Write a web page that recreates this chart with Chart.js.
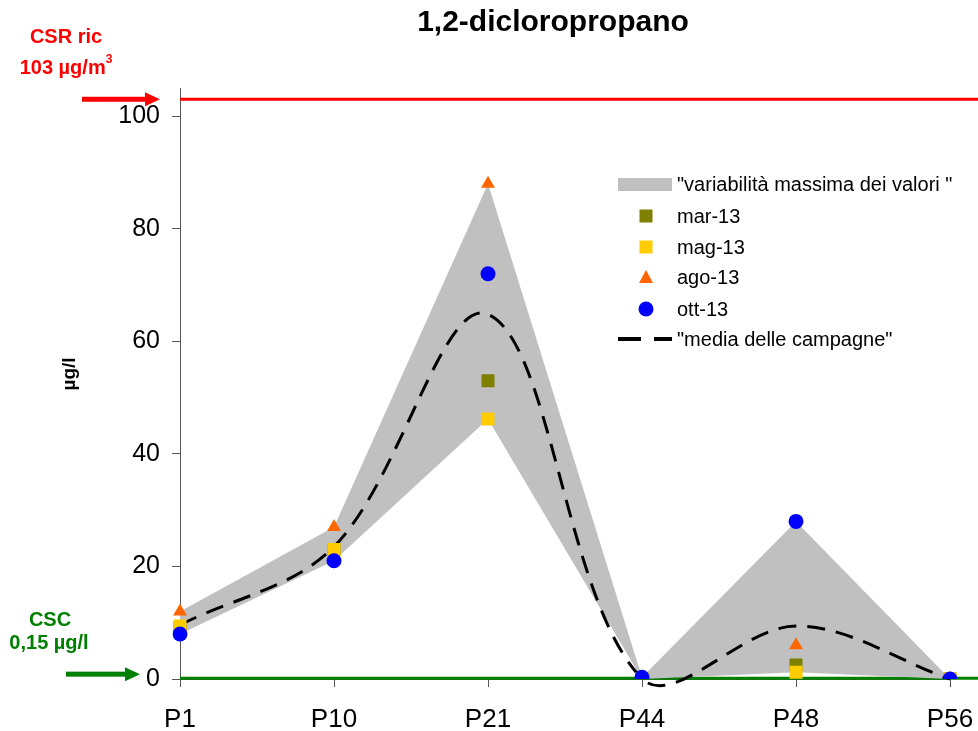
<!DOCTYPE html>
<html>
<head>
<meta charset="utf-8">
<script src="https://cdn.jsdelivr.net/npm/chart.js@4"></script>
<style>
  html, body { margin: 0; padding: 0; background: #fff; }
  #wrap { width: 978px; height: 731px; position: relative; }
</style>
</head>
<body>
<div id="wrap"><canvas id="chart"></canvas></div>
<script>
const stations = ['P1', 'P10', 'P21', 'P44', 'P48', 'P56'];

const mar13 = [9, 23, 53, 0, 2.5, 0];
const mag13 = [9.4, 23, 46.2, 0, 1.2, 0];
const ago13 = [12, 27, 88, 0, 6, 0];
const ott13 = [8, 21, 72, 0.3, 28, 0];

const rangeMax = [12, 27, 88, 0.3, 28, 0];
const rangeMin = [8, 21, 46.2, 0, 1.2, 0];
const mediaCampagne = [9.6, 23.5, 64.8, 0.08, 9.4, 0];

const csrValue = 103;
const cscValue = 0.15;
const yTicks = [0, 20, 40, 60, 80, 100];

const FONT = 'Arial, "Liberation Sans", sans-serif';

function pointSeries(label, data, color, style, radius, order) {
  return {
    label: label,
    data: data,
    showLine: false,
    pointStyle: style,
    pointRadius: radius,
    pointBackgroundColor: color,
    pointBorderWidth: 0,
    borderColor: color,
    order: order
  };
}

const extras = {
  id: 'extras',
  beforeDatasetsDraw(chart) {
    const ctx = chart.ctx;
    const y = chart.scales.y;
    const left = chart.chartArea.left;
    ctx.save();
    ctx.lineWidth = 3;
    ctx.strokeStyle = '#FF0000';
    let py = y.getPixelForValue(csrValue);
    ctx.beginPath(); ctx.moveTo(left, py); ctx.lineTo(chart.width, py); ctx.stroke();
    ctx.strokeStyle = '#008000';
    py = y.getPixelForValue(cscValue);
    ctx.beginPath(); ctx.moveTo(left, py); ctx.lineTo(chart.width, py); ctx.stroke();
    ctx.restore();
  },
  afterDraw(chart) {
    const ctx = chart.ctx;
    const y = chart.scales.y;
    ctx.save();

    // title
    ctx.fillStyle = '#000';
    ctx.textAlign = 'center';
    ctx.textBaseline = 'middle';
    ctx.font = 'bold 30px ' + FONT;
    ctx.fillText('1,2-dicloropropano', 553, 23);

    // y title
    ctx.save();
    ctx.translate(70, 374);
    ctx.rotate(-Math.PI / 2);
    ctx.font = 'bold 19px ' + FONT;
    ctx.fillText('µg/l', 0, 0);
    ctx.restore();

    // CSR
    ctx.fillStyle = '#FF0000';
    ctx.font = 'bold 20px ' + FONT;
    ctx.fillText('CSR ric', 66, 37);
    ctx.textAlign = 'left';
    const t1 = '103 µg/m';
    const w1 = ctx.measureText(t1).width;
    ctx.font = 'bold 12px ' + FONT;
    const w2 = ctx.measureText('3').width;
    const sx = 66 - (w1 + w2) / 2;
    ctx.font = 'bold 20px ' + FONT;
    ctx.fillText(t1, sx, 68);
    ctx.font = 'bold 12px ' + FONT;
    ctx.fillText('3', sx + w1, 60);
    drawArrow(ctx, 82, 160, y.getPixelForValue(csrValue), '#FF0000');

    // CSC
    ctx.textAlign = 'center';
    ctx.fillStyle = '#008000';
    ctx.font = 'bold 20px ' + FONT;
    ctx.fillText('CSC', 50, 620);
    ctx.fillText('0,15 µg/l', 49, 643);
    drawArrow(ctx, 66, 140, y.getPixelForValue(cscValue) - 4, '#008000');

    // legend
    const lx = 618, tx = 677, mx = 646;
    const rows = [184, 216, 247, 277, 309, 339];
    ctx.textAlign = 'left';
    ctx.font = '20px ' + FONT;
    ctx.fillStyle = '#C0C0C0';
    ctx.fillRect(lx, rows[0] - 6, 54, 13);
    ctx.fillStyle = '#808000';
    ctx.fillRect(mx - 6.5, rows[1] - 6.5, 13, 13);
    ctx.fillStyle = '#FFCC00';
    ctx.fillRect(mx - 6.5, rows[2] - 6.5, 13, 13);
    ctx.fillStyle = '#FF6600';
    ctx.beginPath();
    ctx.moveTo(mx, rows[3] - 7); ctx.lineTo(mx + 7, rows[3] + 6); ctx.lineTo(mx - 7, rows[3] + 6);
    ctx.closePath(); ctx.fill();
    ctx.fillStyle = '#0000FF';
    ctx.beginPath(); ctx.arc(mx, rows[4], 7.5, 0, Math.PI * 2); ctx.fill();
    ctx.strokeStyle = '#000';
    ctx.lineWidth = 4;
    ctx.beginPath();
    ctx.moveTo(lx, rows[5]); ctx.lineTo(lx + 23, rows[5]);
    ctx.moveTo(lx + 36, rows[5]); ctx.lineTo(lx + 54, rows[5]);
    ctx.stroke();
    const labels = ['"variabilità massima dei valori "', 'mar-13', 'mag-13', 'ago-13', 'ott-13', '"media delle campagne"'];
    ctx.fillStyle = '#000';
    labels.forEach((t, i) => ctx.fillText(t, tx, rows[i] + 1));

    ctx.restore();
  }
};

function drawArrow(ctx, x0, x1, yy, color) {
  ctx.save();
  ctx.fillStyle = color;
  ctx.fillRect(x0, yy - 2.5, x1 - x0 - 14, 5);
  ctx.beginPath();
  ctx.moveTo(x1 - 15, yy - 7);
  ctx.lineTo(x1, yy);
  ctx.lineTo(x1 - 15, yy + 7);
  ctx.closePath();
  ctx.fill();
  ctx.restore();
}

new Chart(document.getElementById('chart'), {
  type: 'line',
  data: {
    labels: stations,
    datasets: [
      {
        label: 'variabilità massima dei valori',
        data: rangeMax,
        fill: '+1',
        backgroundColor: '#C0C0C0',
        borderWidth: 0,
        pointRadius: 0,
        tension: 0,
        order: 10
      },
      {
        label: 'min',
        data: rangeMin,
        fill: false,
        borderWidth: 0,
        pointRadius: 0,
        tension: 0,
        order: 9
      },
      {
        label: 'media delle campagne',
        data: mediaCampagne,
        borderColor: '#000',
        borderWidth: 3,
        borderDash: [18, 11],
        pointRadius: 0,
        tension: 0.35,
        capBezierPoints: false,
        clip: false,
        fill: false,
        order: 5
      },
      pointSeries('mar-13', mar13, '#808000', 'rect', 9.2, 4),
      pointSeries('mag-13', mag13, '#FFCC00', 'rect', 9.2, 3),
      pointSeries('ago-13', ago13, '#FF6600', 'triangle', 8, 2),
      pointSeries('ott-13', ott13, '#0000FF', 'circle', 7.5, 1)
    ]
  },
  options: {
    responsive: true,
    maintainAspectRatio: false,
    animation: false,
    layout: { padding: { left: 0, right: 28, top: 88, bottom: 0 } },
    scales: {
      x: {
        offset: false,
        afterFit(scale) {
          scale.height = 52;
          scale.paddingLeft = 0;
          scale.paddingRight = 0;
        },
        grid: { drawOnChartArea: false, drawTicks: true, tickLength: 8, color: '#555' },
        border: { color: '#555', width: 1 },
        ticks: { color: '#000', font: { family: FONT, size: 26 }, padding: 17, maxRotation: 0 }
      },
      y: {
        min: 0,
        max: 105,
        afterFit(scale) {
          scale.width = 180;
          scale.paddingTop = 0;
          scale.paddingBottom = 0;
        },
        afterBuildTicks(scale) { scale.ticks = yTicks.map(v => ({ value: v })); },
        grid: { drawOnChartArea: false, drawTicks: true, tickLength: 8, color: '#555' },
        border: { color: '#555', width: 1 },
        ticks: { color: '#000', font: { family: FONT, size: 25 }, padding: 12 }
      }
    },
    plugins: {
      legend: { display: false },
      title: { display: false },
      tooltip: { enabled: false }
    }
  },
  plugins: [extras]
});
</script>
</body>
</html>
